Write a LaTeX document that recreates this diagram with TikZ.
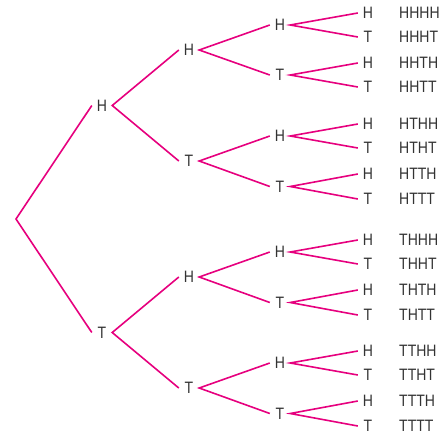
\documentclass[tikz,border=0pt]{standalone}
\usepackage{fontspec}
\setmainfont{Liberation Sans}[FakeStretch=0.85]
\definecolor{branch}{HTML}{E6007E}
\definecolor{txt}{HTML}{333333}
\begin{document}
\begin{tikzpicture}[x=1pt,y=-1pt,
  lbl/.style={inner sep=0pt,minimum width=20pt,text height=11.8pt,text depth=0pt,text=txt,font=\fontsize{16.5}{17}\selectfont},
  outc/.style={inner sep=0pt,anchor=west,text height=11.8pt,text depth=0pt,text=txt,font=\fontsize{16.5}{17}\selectfont},
  br/.style={draw=branch,line width=1.6pt}]
\useasboundingbox (0,0) rectangle (443,436);
% root
\coordinate (r) at (16,219);
% level 1
\node[lbl] (a1) at (102,105.5) {H};
\node[lbl] (a2) at (102,332.5) {T};
% level 2
\node[lbl] (b1) at (189,50) {H};
\node[lbl] (b2) at (189,161) {T};
\node[lbl] (b3) at (189,277) {H};
\node[lbl] (b4) at (189,388) {T};
% level 3
\node[lbl] (c1) at (280,25) {H};
\node[lbl] (c2) at (280,75) {T};
\node[lbl] (c3) at (280,136) {H};
\node[lbl] (c4) at (280,186.5) {T};
\node[lbl] (c5) at (280,252) {H};
\node[lbl] (c6) at (280,302.5) {T};
\node[lbl] (c7) at (280,363) {H};
\node[lbl] (c8) at (280,413.5) {T};
% level 4
\node[lbl] (d1) at (368,13) {H};
\node[lbl] (d2) at (368,37) {T};
\node[lbl] (d3) at (368,63) {H};
\node[lbl] (d4) at (368,87) {T};
\node[lbl] (d5) at (368,124) {H};
\node[lbl] (d6) at (368,148) {T};
\node[lbl] (d7) at (368,174) {H};
\node[lbl] (d8) at (368,199) {T};
\node[lbl] (d9) at (368,240) {H};
\node[lbl] (d10) at (368,264) {T};
\node[lbl] (d11) at (368,290) {H};
\node[lbl] (d12) at (368,315) {T};
\node[lbl] (d13) at (368,351) {H};
\node[lbl] (d14) at (368,375) {T};
\node[lbl] (d15) at (368,401) {H};
\node[lbl] (d16) at (368,426) {T};
% outcomes
\node[outc] (o1) at (399,13) {HHHH};
\node[outc] (o2) at (399,37) {HHHT};
\node[outc] (o3) at (399,63) {HHTH};
\node[outc] (o4) at (399,87) {HHTT};
\node[outc] (o5) at (399,124) {HTHH};
\node[outc] (o6) at (399,148) {HTHT};
\node[outc] (o7) at (399,174) {HTTH};
\node[outc] (o8) at (399,199) {HTTT};
\node[outc] (o9) at (399,240) {THHH};
\node[outc] (o10) at (399,264) {THHT};
\node[outc] (o11) at (399,290) {THTH};
\node[outc] (o12) at (399,315) {THTT};
\node[outc] (o13) at (399,351) {TTHH};
\node[outc] (o14) at (399,375) {TTHT};
\node[outc] (o15) at (399,401) {TTTH};
\node[outc] (o16) at (399,426) {TTTT};
% branches
\draw[br] (a1.west) -- (r) -- (a2.west);
\draw[br] (b1.west) -- (a1.east) -- (b2.west);
\draw[br] (b3.west) -- (a2.east) -- (b4.west);
\draw[br] (c1.west) -- (b1.east) -- (c2.west);
\draw[br] (c3.west) -- (b2.east) -- (c4.west);
\draw[br] (c5.west) -- (b3.east) -- (c6.west);
\draw[br] (c7.west) -- (b4.east) -- (c8.west);
\draw[br] (d1.west) -- (c1.east) -- (d2.west);
\draw[br] (d3.west) -- (c2.east) -- (d4.west);
\draw[br] (d5.west) -- (c3.east) -- (d6.west);
\draw[br] (d7.west) -- (c4.east) -- (d8.west);
\draw[br] (d9.west) -- (c5.east) -- (d10.west);
\draw[br] (d11.west) -- (c6.east) -- (d12.west);
\draw[br] (d13.west) -- (c7.east) -- (d14.west);
\draw[br] (d15.west) -- (c8.east) -- (d16.west);
\end{tikzpicture}
\end{document}
